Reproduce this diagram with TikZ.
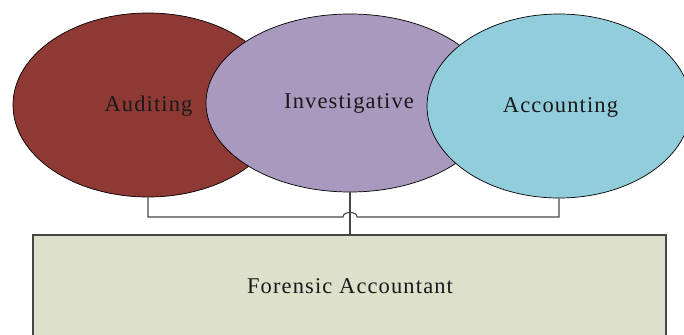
\documentclass[tikz,border=0pt]{standalone}
\usepackage{fontspec}
\setmainfont[LetterSpace=5]{Liberation Serif}
\usetikzlibrary{shapes.geometric}
\definecolor{auditfill}{RGB}{142,57,51}
\definecolor{investfill}{RGB}{169,153,190}
\definecolor{accountfill}{RGB}{146,205,219}
\definecolor{boxfill}{RGB}{221,224,203}
\definecolor{linegray}{RGB}{70,70,70}
\tikzset{
  area/.style={ellipse, draw=black, line width=0.7pt, inner sep=0pt},
  lbl/.style={anchor=base, inner sep=0pt, text=black!90, font=\fontsize{22.5}{26}\selectfont},
  link/.style={draw=linegray, line width=1.1pt},
  rolebox/.style={draw=linegray, line width=1.1pt, fill=boxfill}
}
\begin{document}
\begin{tikzpicture}[x=1pt,y=-1pt]
  \useasboundingbox (0,0) rectangle (684,334);
  \clip (0,0) rectangle (684,334);
  % the three overlapping fields
  \node[area, fill=auditfill, minimum width=270pt, minimum height=184pt] (aud) at (148,105) {};
  \node[area, fill=investfill, minimum width=288pt, minimum height=178pt] (inv) at (350,103) {};
  \node[area, fill=accountfill, minimum width=264pt, minimum height=184pt] (acc) at (559,106) {};
  \node[lbl] (audt) at (148.5,111.5) {Auditing};
  \node[lbl] (invt) at (349,108) {Investigative};
  \node[lbl] (acct) at (560.5,112.5) {Accounting};
  % the role they combine into
  \path[rolebox] (33,235) rectangle (666,345);
  \coordinate (boxtop) at (350,235);
  \node[lbl] (fa) at (350,293.5) {Forensic Accountant};
  % connectors
  \coordinate (hopl) at (343,217);
  \coordinate (hopr) at (357,217);
  \draw[link] (aud.south) |- (hopl) .. controls (343,211) and (357,211) .. (hopr) -| (acc.south);
  \draw[link] (inv.south) -- (boxtop);
\end{tikzpicture}
\end{document}
